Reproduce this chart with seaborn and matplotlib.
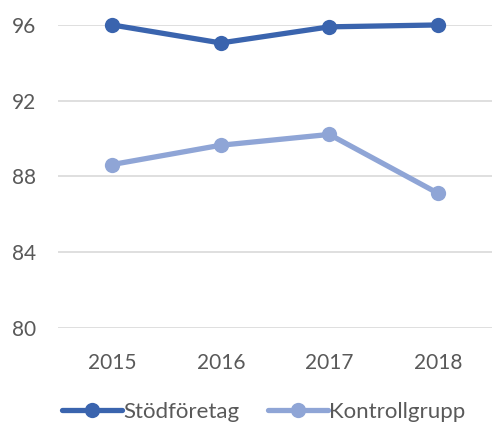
import matplotlib
matplotlib.use("Agg")
import matplotlib.pyplot as plt
import seaborn as sns
import pandas as pd

years = [2015, 2016, 2017, 2018]
stod = [96.0, 95.05, 95.9, 96.0]
kontroll = [88.63, 89.65, 90.22, 87.12]
series_names = ["Stödföretag", "Kontrollgrupp"]
colors = ["#3A64AE", "#8FA5D6"]
yticks = [80, 84, 88, 92, 96]

df = pd.DataFrame({
    "year": years * 2,
    "value": stod + kontroll,
    "series": [series_names[0]] * 4 + [series_names[1]] * 4,
})

sns.set_theme(style="white")
plt.rcParams["font.family"] = ["Lato", "DejaVu Sans"]

fig = plt.figure(figsize=(4.92, 4.23), dpi=100)
ax = fig.add_axes([0.118, 0.2246, 0.882, 0.7164])

sns.lineplot(data=df, x="year", y="value", hue="series", palette=colors,
             marker="o", markersize=11, markeredgewidth=0, linewidth=3.8,
             ax=ax, legend=False)
for ln in ax.lines:
    ln.set_clip_on(False)

ax.set_xlim(2014.5, 2018.5)
ax.set_ylim(80, 96)
ax.set_yticks(yticks)
ax.set_xticks(years)
ax.set_xticklabels([str(y) for y in years])
ax.grid(axis="y", color="#D9D9D9", linewidth=1.2)
ax.set_axisbelow(True)
for s in ax.spines.values():
    s.set_visible(False)
ax.tick_params(axis="both", length=0, labelsize=15, colors="#595959")
ax.tick_params(axis="x", pad=18)
ax.tick_params(axis="y", pad=16)
ax.set_xlabel("")
ax.set_ylabel("")

handles = [plt.Line2D([0], [0], color=c, marker="o", markersize=11, linewidth=3.8,
                      markeredgewidth=0) for c in colors]
fig.legend(handles, series_names, loc="lower left", bbox_to_anchor=(0.085, -0.045),
           ncol=2, frameon=False, fontsize=16, handlelength=2.7, handletextpad=0.05,
           columnspacing=1.3, labelcolor="#595959")

fig.savefig("out.png", dpi=100)
